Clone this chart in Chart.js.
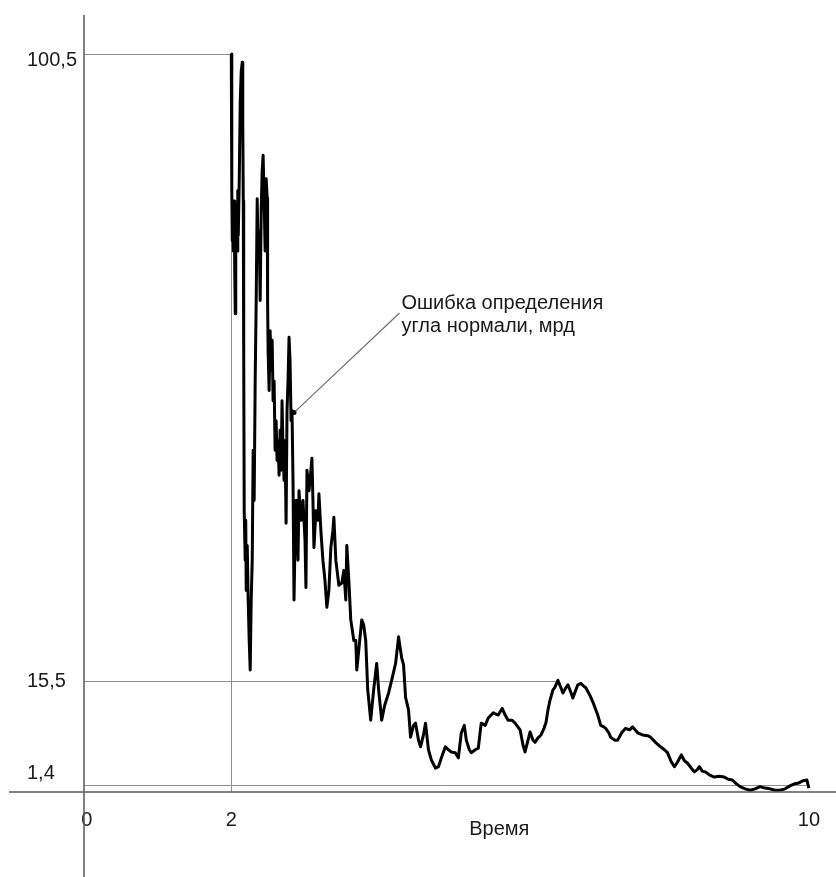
<!DOCTYPE html>
<html>
<head>
<meta charset="utf-8">
<title>Ошибка определения угла нормали</title>
<script src="https://cdn.jsdelivr.net/npm/chart.js@4.4.1/dist/chart.umd.min.js"></script>
<style>
    body { margin: 0; background: #fff; }
    #chart { display: block; }
</style>
</head>
<body>
<canvas id="chart" width="836" height="877"></canvas>
<script>
// время (x) и ошибка, мрд (y)
const timeValues = [
    2.000, 2.007, 2.014, 2.021, 2.028, 2.041, 2.048, 2.055, 2.062, 2.069,
    2.083, 2.090, 2.097, 2.110, 2.124, 2.138, 2.152, 2.159, 2.166, 2.172,
    2.179, 2.193, 2.200, 2.207, 2.221, 2.234, 2.248, 2.262, 2.276, 2.290,
    2.303, 2.317, 2.331, 2.345, 2.359, 2.372, 2.386, 2.400, 2.414, 2.428,
    2.441, 2.455, 2.469, 2.483, 2.497, 2.503, 2.510, 2.524, 2.538, 2.552,
    2.566, 2.579, 2.593, 2.607, 2.621, 2.634, 2.648, 2.662, 2.676, 2.690,
    2.703, 2.717, 2.731, 2.745, 2.759, 2.772, 2.786, 2.800, 2.814, 2.828,
    2.841, 2.855, 2.869, 2.883, 2.897, 2.910, 2.924, 2.938, 2.966, 2.993,
    3.021, 3.034, 3.048, 3.076, 3.103, 3.117, 3.131, 3.145, 3.172, 3.200,
    3.214, 3.241, 3.269, 3.297, 3.324, 3.352, 3.379, 3.407, 3.421, 3.448,
    3.490, 3.531, 3.559, 3.586, 3.600, 3.628, 3.655, 3.697, 3.724, 3.738,
    3.766, 3.807, 3.834, 3.862, 3.890, 3.931, 3.972, 4.014, 4.041, 4.083,
    4.124, 4.179, 4.221, 4.276, 4.317, 4.359, 4.386, 4.414, 4.455, 4.483,
    4.524, 4.552, 4.593, 4.621, 4.662, 4.690, 4.731, 4.772, 4.828, 4.869,
    4.924, 4.966, 5.007, 5.048, 5.103, 5.145, 5.186, 5.228, 5.255, 5.297,
    5.324, 5.379, 5.421, 5.462, 5.517, 5.559, 5.628, 5.697, 5.752, 5.793,
    5.834, 5.890, 5.931, 6.000, 6.041, 6.069, 6.110, 6.138, 6.179, 6.207,
    6.248, 6.290, 6.331, 6.359, 6.386, 6.414, 6.455, 6.483, 6.524, 6.566,
    6.593, 6.634, 6.662, 6.703, 6.731, 6.772, 6.800, 6.841, 6.883, 6.910,
    6.966, 7.007, 7.034, 7.076, 7.117, 7.159, 7.186, 7.228, 7.255, 7.310,
    7.352, 7.407, 7.462, 7.517, 7.559, 7.628, 7.697, 7.766, 7.807, 7.876,
    7.945, 8.000, 8.041, 8.097, 8.138, 8.179, 8.234, 8.276, 8.317, 8.372,
    8.414, 8.455, 8.483, 8.524, 8.566, 8.621, 8.690, 8.759, 8.828, 8.883,
    8.938, 8.993, 9.048, 9.117, 9.186, 9.255, 9.324, 9.393, 9.462, 9.531,
    9.600, 9.669, 9.738, 9.807, 9.862, 9.917, 9.972, 10.000
];
const errorValues = [
    100.5, 82.0, 75.2, 78.6, 73.8, 80.6, 71.1, 65.3, 75.2, 79.9,
    73.8, 82.0, 75.9, 83.3, 94.1, 98.2, 99.4, 91.4, 80.6, 60.3,
    38.6, 31.9, 37.3, 27.8, 33.9, 26.5, 21.0, 17.0, 26.5, 31.9,
    46.8, 40.0, 56.2, 67.1, 80.9, 72.5, 76.5, 67.1, 79.2, 84.7,
    86.8, 80.6, 73.8, 83.6, 81.0, 67.1, 60.3, 54.9, 63.0, 57.6,
    61.7, 53.5, 56.2, 46.8, 50.8, 45.4, 48.1, 43.4, 49.5, 44.1,
    53.5, 46.8, 42.7, 48.1, 36.9, 52.2, 56.2, 62.1, 58.9, 50.8,
    52.2, 42.7, 26.5, 34.6, 40.0, 37.3, 31.9, 41.3, 37.3, 40.0,
    34.6, 28.2, 44.1, 41.3, 44.1, 45.7, 40.0, 33.6, 38.6, 37.3,
    40.9, 35.9, 31.9, 29.2, 25.5, 27.8, 33.6, 35.9, 37.7, 31.9,
    28.5, 28.8, 30.5, 26.5, 33.9, 29.2, 23.8, 21.0, 21.0, 17.0,
    19.7, 23.8, 23.1, 21.0, 14.3, 10.2, 14.3, 17.9, 14.3, 10.2,
    12.2, 13.9, 15.6, 17.9, 21.5, 18.7, 17.7, 13.3, 11.6, 7.9,
    9.5, 9.8, 7.5, 6.6, 8.2, 9.8, 6.2, 4.8, 3.7, 3.9,
    5.5, 6.6, 6.2, 5.9, 5.8, 5.1, 8.5, 9.5, 7.5, 6.2,
    5.8, 6.2, 6.4, 9.8, 9.5, 10.5, 11.2, 10.9, 11.8, 10.9,
    10.2, 10.2, 9.8, 8.9, 6.8, 5.9, 7.5, 8.6, 7.5, 7.2,
    7.8, 8.2, 9.1, 9.9, 11.6, 12.9, 14.3, 14.7, 15.6, 14.6,
    13.9, 14.6, 15.0, 14.0, 13.2, 14.3, 15.0, 15.2, 14.8, 14.6,
    13.6, 12.7, 12.0, 10.9, 9.5, 9.3, 9.1, 8.5, 7.9, 7.5,
    7.5, 8.5, 9.1, 8.9, 9.3, 8.5, 8.2, 8.1, 7.9, 7.2,
    6.6, 6.2, 5.8, 4.5, 3.9, 4.5, 5.5, 4.7, 4.4, 3.7,
    3.2, 3.5, 3.9, 3.3, 3.2, 2.8, 2.5, 2.6, 2.5, 2.2,
    2.1, 1.6, 1.2, 0.9, 0.7, 0.9, 1.2, 1.0, 0.9, 0.7,
    0.7, 0.9, 1.3, 1.6, 1.7, 2.0, 2.1, 1.0
];

const xTicks = [0, 2, 10];
const yTicks = [1.4, 15.5, 100.5];
const yTickLabels = ['1,4', '15,5', '100,5'];

// вспомогательные линии: уровень -> до какого момента времени
const guideLevels = [100.5, 15.5, 1.4];
const guideEnds = [2, 6.524, 10];
const guideTime = 2;

const noteLines = ['Ошибка определения', 'угла нормали, мрд'];
const notePoint = [2.869, 51.9];
const noteAnchor = [4.33, 65.4];
const xTitle = 'Время';

const FONT = '"Liberation Sans", Arial, sans-serif';
const TEXT_COLOR = '#1a1a1a';

const guidesPlugin = {
    id: 'guides',
    beforeDatasetsDraw(chart) {
        const { ctx, chartArea, scales: { x, y } } = chart;
        ctx.save();
        ctx.lineWidth = 1;
        ctx.strokeStyle = '#8f8f8f';
        guideLevels.forEach((level, i) => {
            const py = Math.round(y.getPixelForValue(level)) + 0.5;
            ctx.beginPath();
            ctx.moveTo(chartArea.left, py);
            ctx.lineTo(x.getPixelForValue(guideEnds[i]), py);
            ctx.stroke();
        });
        const px = Math.round(x.getPixelForValue(guideTime)) + 0.5;
        ctx.beginPath();
        ctx.moveTo(px, y.getPixelForValue(guideLevels[0]));
        ctx.lineTo(px, chartArea.bottom);
        ctx.stroke();
        ctx.restore();
    },
    afterDraw(chart) {
        const { ctx, chartArea, scales: { x, y } } = chart;
        ctx.save();
        // оси
        ctx.strokeStyle = '#5a5a5a';
        ctx.lineWidth = 1.5;
        ctx.beginPath();
        ctx.moveTo(chartArea.left, chartArea.top);
        ctx.lineTo(chartArea.left, chart.height);
        ctx.moveTo(9, chartArea.bottom);
        ctx.lineTo(chart.width, chartArea.bottom);
        ctx.stroke();

        // выноска
        const ax = x.getPixelForValue(noteAnchor[0]);
        const ay = y.getPixelForValue(noteAnchor[1]);
        const bx = x.getPixelForValue(notePoint[0]);
        const by = y.getPixelForValue(notePoint[1]);
        ctx.strokeStyle = '#6e6e6e';
        ctx.lineWidth = 1.2;
        ctx.beginPath();
        ctx.moveTo(ax, ay);
        ctx.lineTo(bx, by);
        ctx.stroke();
        ctx.fillStyle = '#000';
        ctx.beginPath();
        ctx.arc(bx, by, 2.5, 0, Math.PI * 2);
        ctx.fill();

        ctx.fillStyle = TEXT_COLOR;
        ctx.font = '20px ' + FONT;
        ctx.textAlign = 'left';
        ctx.textBaseline = 'middle';
        ctx.fillText(noteLines[0], ax + 2, ay - 10);
        ctx.fillText(noteLines[1], ax + 2, ay + 13);

        ctx.textAlign = 'center';
        ctx.fillText(xTitle, (chartArea.left + chartArea.right) / 2 + 41, chartArea.bottom + 37);
        ctx.restore();
    }
};

const points = timeValues.map((t, i) => ({ x: t, y: errorValues[i] }));

// подпись 1,4 приподнята над осью, 100,5 чуть опущена (как на оригинале);
// сдвиг делаем пустой строкой в метке и высотой строки
function yLabel(value) {
    const text = yTickLabels[yTicks.indexOf(value)];
    if (value === 1.4) return [text, ''];
    if (value === 100.5) return ['', text];
    return text;
}

new Chart(document.getElementById('chart'), {
    type: 'line',
    data: {
        datasets: [{
            label: 'Ошибка определения угла нормали, мрд',
            data: points,
            borderColor: '#000',
            borderWidth: 3,
            borderJoinStyle: 'round',
            pointRadius: 0,
            tension: 0,
            fill: false
        }]
    },
    options: {
        responsive: false,
        animation: false,
        devicePixelRatio: 1,
        layout: { padding: { left: 27, top: 14, right: 0, bottom: 0 } },
        plugins: {
            legend: { display: false },
            tooltip: { enabled: false }
        },
        scales: {
            x: {
                type: 'linear',
                min: -0.04,
                max: 10.33,
                grid: { display: false, drawTicks: false },
                border: { display: false },
                afterBuildTicks: scale => { scale.ticks = xTicks.map(v => ({ value: v })); },
                afterFit: scale => { scale.height = 85; },
                ticks: {
                    autoSkip: false,
                    maxRotation: 0,
                    padding: 16,
                    color: TEXT_COLOR,
                    font: { family: FONT, size: 20 },
                    callback: value => String(value)
                }
            },
            y: {
                type: 'linear',
                min: 0.47,
                max: 105.8,
                grid: { display: false, drawTicks: false },
                border: { display: false },
                afterBuildTicks: scale => { scale.ticks = yTicks.map(v => ({ value: v })); },
                afterFit: scale => { scale.width = 57; },
                ticks: {
                    autoSkip: false,
                    crossAlign: 'far',
                    color: TEXT_COLOR,
                    font: ctx => ({
                        family: FONT,
                        size: 20,
                        lineHeight: ctx.tick && ctx.tick.value === 100.5 ? 0.6 : 1.2
                    }),
                    callback: value => yLabel(value)
                }
            }
        }
    },
    plugins: [guidesPlugin]
});
</script>
</body>
</html>
